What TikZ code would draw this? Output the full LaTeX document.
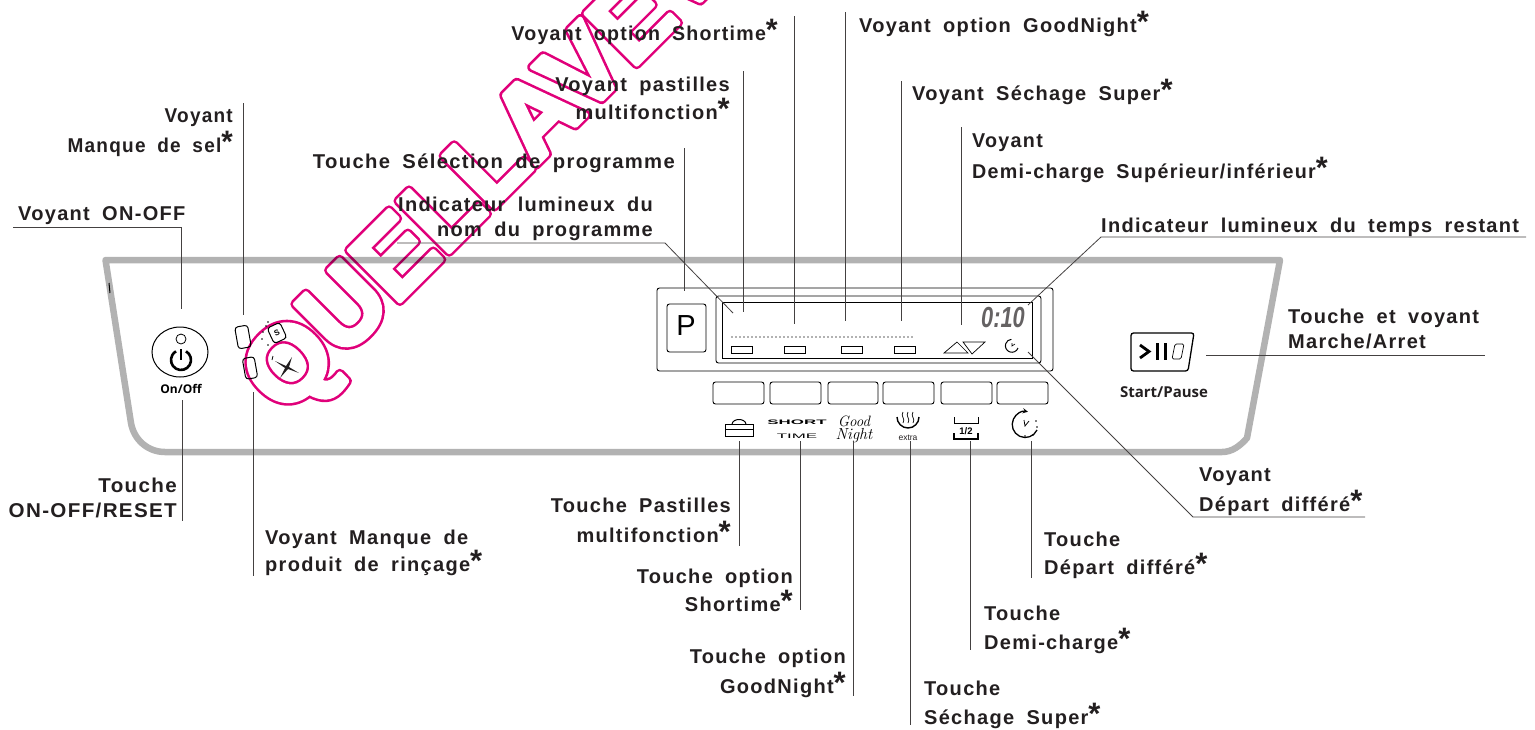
\documentclass[tikz,border=0pt]{standalone}
\usepackage{fontspec}
\setmainfont{Liberation Sans}
\newfontfamily\etiqfont[LetterSpace=6.5,WordSpace=1.8]{Liberation Sans}
\newfontfamily\iconfont{Open Sans}
\newfontfamily\mainfont{Latin Modern Roman}
\definecolor{encre}{HTML}{231F20}
\definecolor{gris}{HTML}{B2B2B2}
\definecolor{rose}{HTML}{E0007A}
\newcommand{\etoile}{\smash{\normalfont\bfseries\fontsize{31}{31}\selectfont *}}
\newcommand{\tracecontour}{\special{pdf:code 1 Tr 9.8 w 1 j}}
\newcommand{\tracefond}{\special{pdf:code 2 Tr 4.6 w 1 j}}
\newcommand{\plein}{\special{pdf:code 0 Tr}}
\tikzset{
  etiq/.style={inner sep=0pt,text=encre,align=left,font=\etiqfont\bfseries\fontsize{20}{25}\selectfont},
  etiqd/.style={etiq,align=right},
  renvoi/.style={draw=encre!85,line width=0.8pt},
  trait/.style={draw=black,line width=1pt},
  panneau/.style={draw=gris,line width=6.5pt,line join=round,blend mode=multiply},
  touche/.style={draw=black,line width=0.9pt,rounded corners=2.5pt},
  temoin/.style={draw=black,line width=1pt,rounded corners=3pt,inner sep=0pt,minimum width=13pt,minimum height=22pt},
  filig/.style={rotate=45,anchor=base west,inner sep=0pt,font=\bfseries\fontsize{104.5}{104.5}\selectfont},
}
\begin{document}
\begin{tikzpicture}[x=1pt,y=-1pt]
  \useasboundingbox (0,0) rectangle (1535,729);

  % filigrane
  \begin{scope}
    \clip (0,0) rectangle (1535,729);
    \node[filig,text=rose] (filigrane) at (284,417) {\tracecontour QUELLAVEV\plein};
    \node[filig,text=white] (filigraneb) at (284,417) {\tracefond QUELLAVEV\plein};
  \end{scope}

  % panneau de commande
  \draw[panneau] (105.5,260) -- (1280,260) -- (1247,438) .. controls (1240,446) and (1232,452) .. (1222,452)
    -- (165,452) .. controls (148,452) and (134,440) .. (131,423) -- cycle;
  \draw[trait] (109,283) -- (110,293);

  % bouton marche
  \draw[trait] (180,352) ellipse (28 and 25);
  \draw[line width=0.8pt] (181,339) circle (5);
  \draw[line width=2.6pt] (186,351.3) arc[start angle=-60,end angle=240,radius=10];
  \draw[line width=2.6pt] (181,349) -- (181,360);
  \node[font=\iconfont\bfseries\fontsize{12}{12}\selectfont] (onoff) at (181,389) {On/Off};

  % voyants sel et rincage
  \node[temoin,rotate=10] (sel) at (243,337) {};
  \node[temoin,rotate=10,minimum width=12pt,minimum height=21pt] (rincage) at (250,368) {};
  \node[temoin,rotate=25,minimum width=14pt,minimum height=17pt,font=\bfseries\fontsize{8}{8}\selectfont] (selS) at (277,333) {S};
  \foreach \x/\y in {266/326,263/332,268/322,262/339,268/345} \fill[black] (\x,\y) circle (0.9);
  \fill[encre] (275,361) -- (286,366) -- (292,357) -- (289,367) -- (299,373) -- (288,369) -- (280,378) -- (285,368) -- cycle;
  \draw[line width=0.8pt] (272,360) -- (273,356);

  % bloc programme
  \draw[touche] (657,288) rectangle (1053,371);
  \draw[touche] (667,304) rectangle (706,352);
  \node[font=\fontsize{29}{29}\selectfont] (prog) at (686,326) {P};
  \draw[touche] (716,296) rectangle (1041,363);
  \draw[draw=black,line width=0.9pt] (722,302) rectangle (1032,358);
  \draw[gris,line width=1.8pt,dash pattern=on 2pt off 2pt] (731,337) -- (913,337);
  \foreach \x in {731,784,841,894} \draw[line width=0.7pt] (\x,346) rectangle ++(21,7);
  \draw[line width=0.7pt] (944,353) -- (957,342) -- (968,353) -- cycle;
  \draw[line width=0.7pt] (963,342) -- (985,342) -- (972,354) -- cycle;
  \draw[line width=1pt] (1018,348) arc[start angle=20,end angle=265,radius=6.5];
  \draw[line width=0.6pt] (1012,343) -- (1012,346) -- (1015,344);
  \node[xscale=0.75,text=encre!70,font=\bfseries\itshape\fontsize{29}{29}\selectfont] (duree) at (1003,318) {0:10};

  % touches
  \foreach \xa/\xb in {713/764,770/821,828/878,883/934,941/992,997/1048}
    \draw[touche] (\xa,382) rectangle (\xb,404);

  % pictogrammes
  \draw[line width=1pt] (725,424) rectangle (753,436) (725,429) -- (753,429);
  \draw[line width=1pt] (732,424) .. controls (733,418) and (745,418) .. (746,424);
  \node[xscale=2.6,font=\bfseries\fontsize{6.5}{6.5}\selectfont] (short) at (797,422) {SHORT};
  \node[xscale=2.6,font=\fontsize{6.5}{6.5}\selectfont] (time) at (797,436) {TIME};
  \node[font=\mainfont\itshape\fontsize{15}{15}\selectfont] at (854,421) (good) {Good};
  \node[font=\mainfont\itshape\fontsize{16}{16}\selectfont] at (854,436) (night) {Night};
  \draw[line width=1.4pt] (897,417) arc[start angle=180,end angle=0,radius=11];
  \foreach \x in {903,908,913}
    \draw[line width=0.7pt] (\x,412) .. controls (\x-3,416) and (\x+3,419) .. (\x,423);
  \node[text=encre,font=\fontsize{8.5}{9}\selectfont] (extra) at (908,438) {extra};
  \draw[line width=1pt] (954,417) -- (954,423) -- (978,423) -- (978,417);
  \draw[line width=1.1pt] (954,433) -- (954,439) -- (978,439) -- (978,433);
  \node[font=\bfseries\fontsize{9.5}{10}\selectfont] (demi) at (966,431) {1/2};
  \draw[line width=1.3pt,->,>=stealth] (1037,430) arc[start angle=25,end angle=282,radius=13];
  \draw[line width=0.8pt] (1024,420) -- (1025,426) -- (1029,421);
  \foreach \x/\y in {1036/421,1037/427,1025/436,1033/435} \fill[black] (\x,\y) circle (0.9);

  % depart / pause
  \draw[line width=1.3pt,rounded corners=2.5pt] (1131,333) -- (1194,333) -- (1188,371) -- (1131,371) -- cycle;
  \draw[line width=2.8pt] (1140,345) -- (1149,351.5) -- (1140,358);
  \draw[line width=3pt] (1157,343) -- (1157,360) (1165,343) -- (1165,360);
  \draw[line width=0.7pt,rounded corners=1.5pt] (1175,344) -- (1184,344) -- (1181,359) -- (1172,359) -- cycle;
  \node[text=encre,font=\iconfont\bfseries\fontsize{15}{15}\selectfont] (depart) at (1164,392) {Start/Pause};

  % etiquettes
  \node[etiq,anchor=base west] (onoffV) at (18,220) {Voyant ON-OFF};
  \node[etiqd,anchor=base east,xscale=0.95] (selV) at (233,152) {Voyant\\[5pt]Manque de sel\etoile};
  \node[etiqd,anchor=base east,xscale=1.03] (onoffT) at (177,517) {Touche\\ON-OFF/RESET};
  \node[etiq,anchor=base west] (rincV) at (265,571) {Voyant Manque de\\[2pt]produit de rinçage\etoile};
  \node[etiqd,anchor=base east,xscale=1.012] (progT) at (675,168) {Touche Sélection de programme};
  \node[etiqd,anchor=base east] (nomI) at (653,236) {Indicateur lumineux du\\nom du programme};
  \node[etiqd,anchor=base east] (pastV) at (730,119) {Voyant pastilles\\[3pt]multifonction\etoile};
  \node[etiqd,anchor=base east,xscale=0.98] (shortV) at (778,40) {Voyant option Shortime\etoile};
  \node[etiq,anchor=base west] (goodV) at (859,32) {Voyant option GoodNight\etoile};
  \node[etiq,anchor=base west] (sechV) at (912,100) {Voyant Séchage Super\etoile};
  \node[etiq,anchor=base west,xscale=0.985] (demiV) at (972,178) {Voyant\\[6pt]Demi-charge Supérieur/inférieur\etoile};
  \node[etiq,anchor=base west] (tempsI) at (1101,232) {Indicateur lumineux du temps restant};
  \node[etiq,anchor=base west] (marche) at (1288,348) {Touche et voyant\\Marche/Arret};
  \node[etiq,anchor=base west] (diffV) at (1199,511) {Voyant\\[5pt]Départ différé\etoile};
  \node[etiqd,anchor=base east] (pastT) at (731,542) {Touche Pastilles\\[5pt]multifonction\etoile};
  \node[etiqd,anchor=base east] (shortT) at (793,611) {Touche option\\[3pt]Shortime\etoile};
  \node[etiqd,anchor=base east] (goodT) at (846,693) {Touche option\\[5pt]GoodNight\etoile};
  \node[etiq,anchor=base west] (sechT) at (924,724) {Touche\\[4pt]Séchage Super\etoile};
  \node[etiq,anchor=base west] (demiT) at (984,649) {Touche\\[4pt]Demi-charge\etoile};
  \node[etiq,anchor=base west] (diffT) at (1044,574) {Touche\\[3pt]Départ différé\etoile};

  % renvois du haut
  \coordinate (a1) at (13,227);     \coordinate (a2) at (181,227);    \coordinate (a3) at (181,309);
  \draw[renvoi] (a1) -- (a2) -- (a3);
  \coordinate (b1) at (243,103);    \coordinate (b2) at (243,315);
  \draw[renvoi] (b1) -- (b2);
  \coordinate (c1) at (684,148);    \coordinate (c2) at (684,291);
  \draw[renvoi] (c1) -- (c2);
  \coordinate (d1) at (397,243);    \coordinate (d2) at (665,243);    \coordinate (d3) at (733,313);
  \draw[renvoi] (d1) -- (d2) -- (d3);
  \coordinate (e1) at (743,71);     \coordinate (e2) at (743,312);
  \draw[renvoi] (e1) -- (e2);
  \coordinate (f1) at (794,16);     \coordinate (f2) at (794,324);
  \draw[renvoi] (f1) -- (f2);
  \coordinate (g1) at (845,12);     \coordinate (g2) at (845,321);
  \draw[renvoi] (g1) -- (g2);
  \coordinate (h1) at (901,81);     \coordinate (h2) at (901,321);
  \draw[renvoi] (h1) -- (h2);
  \coordinate (i1) at (961,127);    \coordinate (i2) at (961,325);
  \draw[renvoi] (i1) -- (i2);
  \coordinate (j1) at (1526,237);   \coordinate (j2) at (1101,237);   \coordinate (j3) at (1028,305);
  \draw[renvoi] (j1) -- (j2) -- (j3);
  \coordinate (k1) at (1206,355);   \coordinate (k2) at (1485,355);
  \draw[renvoi] (k1) -- (k2);

  % renvois du bas
  \coordinate (l1) at (1365,517);   \coordinate (l2) at (1193,517);   \coordinate (l3) at (1028,352);
  \draw[renvoi] (l1) -- (l2) -- (l3);
  \coordinate (m1) at (182,400);    \coordinate (m2) at (182,521);
  \draw[renvoi] (m1) -- (m2);
  \coordinate (n1) at (253,392);    \coordinate (n2) at (253,576);
  \draw[renvoi] (n1) -- (n2);
  \coordinate (o1) at (739,441);    \coordinate (o2) at (739,546);
  \draw[renvoi] (o1) -- (o2);
  \coordinate (p1) at (800,441);    \coordinate (p2) at (800,610);
  \draw[renvoi] (p1) -- (p2);
  \coordinate (q1) at (853,441);    \coordinate (q2) at (853,696);
  \draw[renvoi] (q1) -- (q2);
  \coordinate (r1) at (910,441);    \coordinate (r2) at (910,725);
  \draw[renvoi] (r1) -- (r2);
  \coordinate (s1) at (970,441);    \coordinate (s2) at (970,650);
  \draw[renvoi] (s1) -- (s2);
  \coordinate (t1) at (1031,441);   \coordinate (t2) at (1031,578);
  \draw[renvoi] (t1) -- (t2);
\end{tikzpicture}
\end{document}
